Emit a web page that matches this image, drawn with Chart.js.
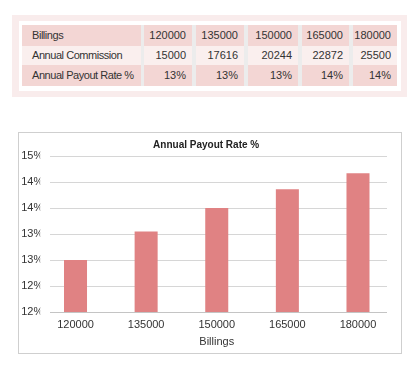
<!DOCTYPE html>
<html>
<head>
<meta charset="utf-8">
<script src="https://cdn.jsdelivr.net/npm/chart.js@4/dist/chart.umd.min.js"></script>
<style>
  html, body { margin:0; padding:0; background:#fff; }
  body { width:413px; height:374px; position:relative; overflow:hidden; font-family:"Liberation Sans", Arial, sans-serif; color:#333; }
  #frame { position:absolute; left:12px; top:15px; width:395px; height:82px; background:#f9ecec; }
  #inner { position:absolute; left:19px; top:21px; width:382px; height:70px; background:#fff; }
  .rowbg { position:absolute; left:22px; width:375px; background:#ececec; }
  .cell { position:absolute; box-sizing:border-box; font-size:11px; line-height:1; display:flex; align-items:center; white-space:nowrap; }
  .cell.num { justify-content:flex-end; padding-right:6px; }
  .cell.lab { padding-left:10px; letter-spacing:-0.45px; }
  #chartBox { position:absolute; left:18px; top:132px; width:384px; height:222px; box-sizing:border-box; border:1px solid #cfcfcf; background:#fff; }
  #chartBox canvas { display:block; }
</style>
</head>
<body>
<div id="frame"></div>
<div id="inner"></div>
<div id="table"></div>
<div id="chartBox"><canvas id="c" width="382" height="220"></canvas></div>
<script>
// ---- data ----
const rowLabels = ['Billings', 'Annual Commission', 'Annual Payout Rate %'];
const billings = ['120000', '135000', '150000', '165000', '180000'];
const commission = ['15000', '17616', '20244', '22872', '25500'];
const payoutRateLabels = ['13%', '13%', '13%', '14%', '14%'];
const payoutRate = [0.125, 0.1305, 0.135, 0.1386, 0.1417];
const yTickLabels = ['12%', '12%', '13%', '13%', '14%', '14%', '15%'];
const chartTitle = 'Annual Payout Rate %';
const xAxisTitle = 'Billings';

// ---- table ----
const colX = [[22,141],[144,192],[196,244],[248,298],[302,349],[353,397]];
const rowY = [[25,46,'#f3d6d4'],[46,64.5,'#faefee'],[65,86,'#f3d6d4']];
const tableData = [billings, commission, payoutRateLabels];
const tbl = document.getElementById('table');
rowY.forEach(([y0,y1,bg], r) => {
  const rb = document.createElement('div');
  rb.className = 'rowbg';
  rb.style.top = y0 + 'px'; rb.style.height = (y1 - y0) + 'px';
  tbl.appendChild(rb);
  colX.forEach(([x0,x1], c) => {
    const d = document.createElement('div');
    d.className = 'cell ' + (c === 0 ? 'lab' : 'num');
    d.style.left = x0 + 'px'; d.style.width = (x1 - x0) + 'px';
    d.style.top = y0 + 'px'; d.style.height = (y1 - y0) + 'px';
    d.style.background = bg;
    d.textContent = c === 0 ? rowLabels[r] : tableData[r][c-1];
    tbl.appendChild(d);
  });
});

// ---- chart ----
const FONT = '"Liberation Sans", Arial, sans-serif';
const GRID_LEFT = 31, GRID_RIGHT = 368; // canvas px

const gridPlugin = {
  id: 'partialGrid',
  beforeDatasetsDraw(chart) {
    const ctx = chart.ctx, y = chart.scales.y;
    ctx.save();
    ctx.lineWidth = 1;
    y.ticks.forEach((t, i) => {
      const py = Math.round(y.getPixelForValue(t.value)) + 0.5;
      ctx.strokeStyle = i === 0 ? '#c4c4c4' : '#d6d6d6';
      ctx.beginPath();
      ctx.moveTo(GRID_LEFT, py);
      ctx.lineTo(GRID_RIGHT, py);
      ctx.stroke();
    });
    ctx.restore();
  }
};

new Chart(document.getElementById('c'), {
  type: 'bar',
  data: {
    labels: billings,
    datasets: [{
      label: chartTitle,
      data: payoutRate,
      backgroundColor: '#e08283',
      borderWidth: 0,
      barPercentage: 0.326,
      categoryPercentage: 1.0
    }]
  },
  plugins: [gridPlugin],
  options: {
    responsive: false,
    animation: false,
    devicePixelRatio: 1,
    layout: { padding: { left: 0, right: 7.7, top: 0, bottom: 0 } },
    plugins: {
      legend: { display: false },
      tooltip: { enabled: false },
      title: {
        display: true,
        text: chartTitle,
        color: '#222',
        font: { family: FONT, size: 10, weight: 'bold', lineHeight: 1.2 },
        padding: { top: 6, bottom: 5 }
      }
    },
    scales: {
      x: {
        grid: { display: false, drawTicks: false },
        border: { display: false },
        ticks: { color: '#333', font: { family: FONT, size: 11 }, padding: 6, maxRotation: 0 },
        title: { display: true, text: xAxisTitle, color: '#333', font: { family: FONT, size: 11 }, padding: { top: 2, bottom: 4 } },
        afterFit: s => { s.height = 41; }
      },
      y: {
        min: 0.115,
        max: 0.145,
        grid: { display: false, drawTicks: false },
        border: { display: false },
        ticks: {
          stepSize: 0.005,
          color: '#333',
          padding: -3,
          font: { family: FONT, size: 11 },
          callback: (v, i) => yTickLabels[i]
        },
        afterFit: s => { s.width = 21.2; }
      }
    }
  }
});
</script>
</body>
</html>
